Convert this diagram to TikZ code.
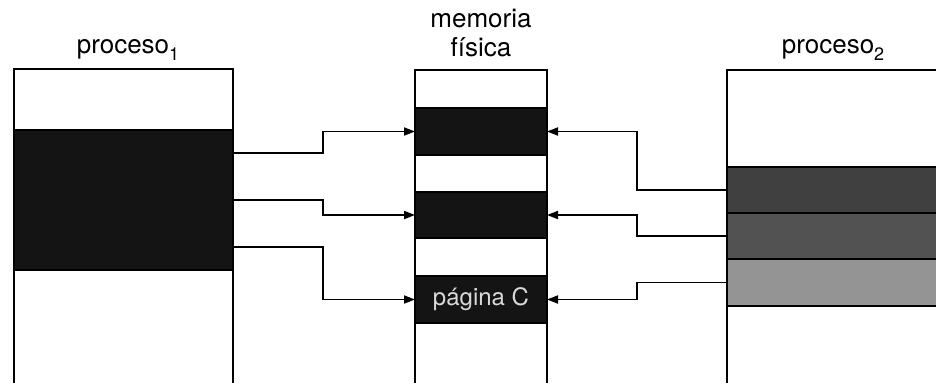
\documentclass[tikz,border=0pt]{standalone}
\usepackage{fontspec}
\setmainfont{TeX Gyre Heros}
\usetikzlibrary{arrows.meta}
\newcommand\subix[1]{\raisebox{-7pt}{\fontsize{18}{18}\selectfont #1}}
\tikzset{
  frame/.style={line width=1.7pt, draw=black},
  darkband/.style={fill=black!92, draw=none, inner sep=0pt, outer sep=0pt},
  p2band/.style={draw=none, inner sep=0pt, outer sep=0pt},
  conn/.style={line width=1.9pt, -{Triangle[length=11pt,width=8pt]}},
  lbl/.style={font=\fontsize{26}{29}\selectfont, align=center, inner sep=0pt}
}
\begin{document}
\begin{tikzpicture}[x=1pt,y=-1pt]
\useasboundingbox (0,0) rectangle (936,383);
% labels
\node[lbl] (l1) at (128,50) {proceso\subix{1}};
\node[lbl] (lm) at (481,33) {memoria\\física};
\node[lbl] (l2) at (833,50) {proceso\subix{2}};
% proceso 1 bands
\node[darkband, minimum width=219pt, minimum height=46.67pt] (p1a) at (123.5,153.33) {};
\node[darkband, minimum width=219pt, minimum height=46.67pt] (p1b) at (123.5,200) {};
\node[darkband, minimum width=219pt, minimum height=46.67pt] (p1c) at (123.5,246.67) {};
\draw[frame] (p1a.north west) -- (p1a.north east);
\draw[frame] (p1c.south west) -- (p1c.south east);
\draw[frame] (14,383) -- (14,69) -- (233,69) -- (233,383);
% memoria bands
\node[darkband, draw=black, line width=1.7pt, minimum width=132pt, minimum height=47pt] (mA) at (481,131.5) {};
\node[darkband, draw=black, line width=1.7pt, minimum width=132pt, minimum height=46pt] (mB) at (481,215) {};
\node[darkband, draw=black, line width=1.7pt, minimum width=132pt, minimum height=47pt] (mC) at (481,299.5) {};
\node[lbl, text=black!15, font=\fontsize{24}{28}\selectfont] (tC) at (mC) {página C};
\draw[frame] (415,383) -- (415,70) -- (547,70) -- (547,383);
% proceso 2 bands
\node[p2band, fill=black!75, minimum width=209pt, minimum height=46pt, anchor=west] (p2a) at (727,190) {};
\node[p2band, fill=black!68, minimum width=209pt, minimum height=46pt, anchor=west] (p2b) at (727,236) {};
\node[p2band, fill=black!42, minimum width=209pt, minimum height=47pt, anchor=west] (p2c) at (727,282.5) {};
\draw[frame] (p2a.north west) -- (p2a.north east);
\draw[frame] (p2b.north west) -- (p2b.north east);
\draw[frame] (p2c.north west) -- (p2c.north east);
\draw[frame] (p2c.south west) -- (p2c.south east);
\draw[frame] (727,383) -- (727,70) -- (936,70);
% connectors
\draw[conn] (p1a.east) -- ++(90,0) |- (mA.west);
\draw[conn] (p1b.east) -- ++(90,0) |- (mB.west);
\draw[conn] (p1c.east) -- ++(90,0) |- (mC.west);
\draw[conn] (p2a.west) -- ++(-90,0) |- (mA.east);
\draw[conn] (p2b.west) -- ++(-90,0) |- (mB.east);
\draw[conn] (p2c.west) -- ++(-90,0) |- (mC.east);
\end{tikzpicture}
\end{document}
